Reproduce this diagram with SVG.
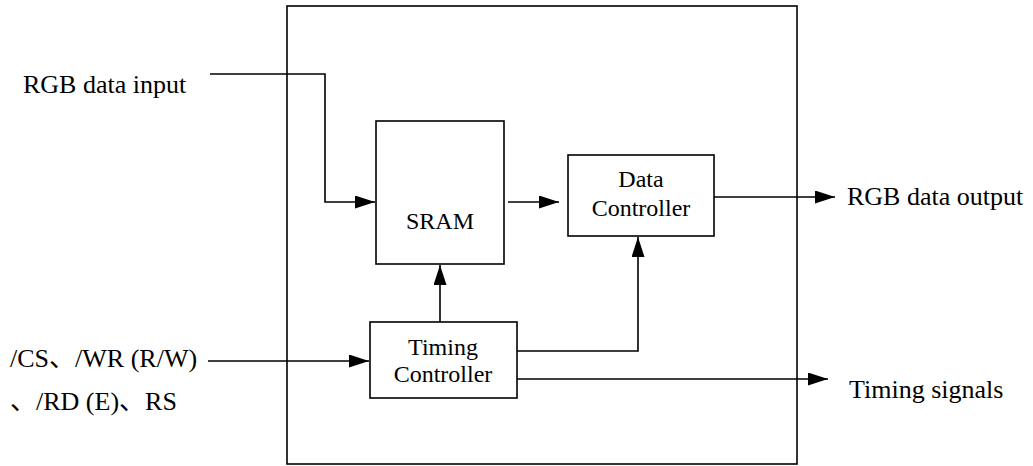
<svg xmlns="http://www.w3.org/2000/svg" width="1033" height="466" viewBox="0 0 1033 466">
  <style>
    .box { fill: #ffffff; stroke: #000000; stroke-width: 1.6; }
    .wire { fill: none; stroke: #000000; stroke-width: 1.6; }
    .lbl { font-family: 'Liberation Serif', 'Times New Roman', Times, serif; fill: #000000; }
    .cjk { font-family: 'Noto Sans CJK SC', 'Noto Sans CJK JP', sans-serif; }
    .big { font-size: 26px; }
    .mid { font-size: 24px; }
  </style>
  <defs>
    <marker id="arrow" viewBox="0 0 20 13" refX="20" refY="6.5" markerWidth="20" markerHeight="13" markerUnits="userSpaceOnUse" orient="auto">
      <path d="M0,0 L20,6.5 L0,13 Z" fill="#000000"/>
    </marker>
  </defs>

  <rect width="1033" height="466" fill="#ffffff"/>

  <!-- outer module boundary -->
  <g id="module">
    <rect class="box" x="287" y="6" width="510" height="458" fill="none"/>
  </g>

  <!-- connectors -->
  <g id="connectors">
    <path class="wire" d="M210,74 H325 V202 H375" marker-end="url(#arrow)"/>
    <path class="wire" d="M508,202 H559" marker-end="url(#arrow)"/>
    <path class="wire" d="M714,197 H835" marker-end="url(#arrow)"/>
    <path class="wire" d="M440,322 V265" marker-end="url(#arrow)"/>
    <path class="wire" d="M517,351 H638 V237" marker-end="url(#arrow)"/>
    <path class="wire" d="M208,361 H369" marker-end="url(#arrow)"/>
    <path class="wire" d="M517,379 H828" marker-end="url(#arrow)"/>
  </g>

  <g id="sram">
    <rect class="box" x="376" y="121" width="128" height="143"/>
    <text class="lbl mid" x="440" y="229" text-anchor="middle">SRAM</text>
  </g>

  <g id="data-controller">
    <rect class="box" x="568" y="155" width="146" height="81"/>
    <text class="lbl mid" x="641" y="187" text-anchor="middle">Data</text>
    <text class="lbl mid" x="641" y="216" text-anchor="middle">Controller</text>
  </g>

  <g id="timing-controller">
    <rect class="box" x="370" y="322" width="147" height="76"/>
    <text class="lbl mid" x="443" y="355" text-anchor="middle">Timing</text>
    <text class="lbl mid" x="443" y="382" text-anchor="middle">Controller</text>
  </g>

  <!-- external signal labels -->
  <g id="labels">
    <text class="lbl big" x="23" y="93">RGB data input</text>
    <text class="lbl big" x="847" y="205">RGB data output</text>
    <text class="lbl big" x="10" y="367">/CS<tspan class="cjk">、</tspan>/WR (R/W)</text>
    <text class="lbl big" x="10" y="410"><tspan class="cjk">、</tspan>/RD (E)<tspan class="cjk">、</tspan>RS</text>
    <text class="lbl big" x="849" y="398">Timing signals</text>
  </g>
</svg>
